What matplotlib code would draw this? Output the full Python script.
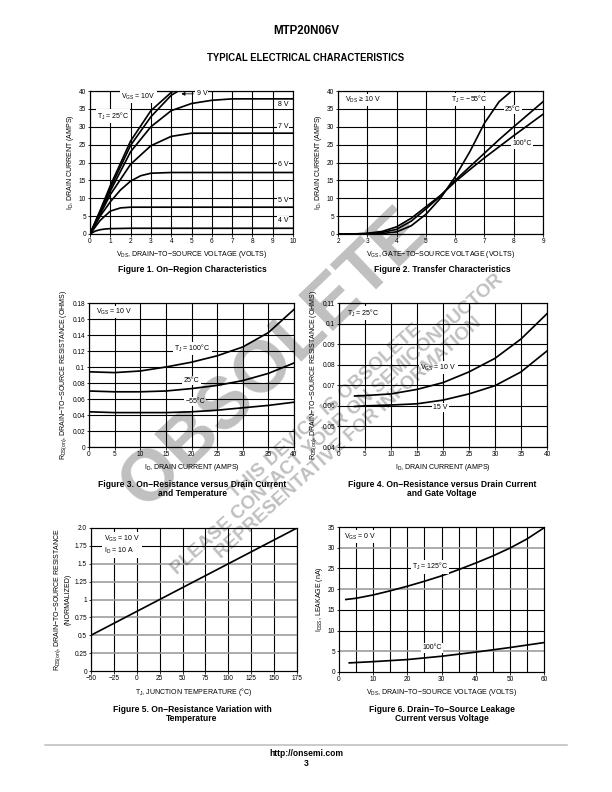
import matplotlib
matplotlib.use('Agg')
import matplotlib.pyplot as plt
import numpy as np

plt.rcParams['font.family'] = ['Liberation Sans Narrow', 'Liberation Sans', 'DejaVu Sans']
plt.rcParams['mathtext.fontset'] = 'custom'
plt.rcParams['mathtext.rm'] = 'Liberation Sans Narrow'
plt.rcParams['mathtext.default'] = 'regular'

# ---- Figure 1: On-region characteristics (ID vs VDS) ----
f1_vgs = ['4 V', '5 V', '6 V', '7 V', '8 V', '9 V', '10 V']
f1_x = {
    '4 V':  [0, 0.25, 0.5, 0.75, 1.0, 1.5, 2, 10],
    '5 V':  [0, 0.5, 1.0, 1.5, 2.0, 10],
    '6 V':  [0, 0.5, 1.0, 1.5, 2.0, 2.5, 3.0, 4.0, 10],
    '7 V':  [0, 0.5, 1.0, 2.0, 3.0, 4.0, 5.0, 10],
    '8 V':  [0, 0.5, 1.0, 2.0, 3.0, 4.0, 5.0, 6.0, 7.0, 10],
    '9 V':  [0, 0.5, 1.0, 2.0, 3.0, 4.0, 4.5],
    '10 V': [0, 0.5, 1.0, 2.0, 3.0, 4.0, 4.3],
}
f1_y = {
    '4 V':  [0, 0.8, 1.2, 1.4, 1.5, 1.55, 1.6, 1.6],
    '5 V':  [0, 3.8, 6.4, 7.3, 7.5, 7.5],
    '6 V':  [0, 5.0, 9.0, 12.3, 14.8, 16.3, 17.0, 17.2, 17.2],
    '7 V':  [0, 5.5, 11.0, 19.5, 24.7, 27.3, 28.2, 28.2],
    '8 V':  [0, 6.0, 12.0, 23.0, 30.0, 34.5, 36.5, 37.4, 37.8, 37.8],
    '9 V':  [0, 6.3, 12.8, 24.8, 32.8, 38.8, 40.5],
    '10 V': [0, 6.6, 13.5, 26.0, 34.5, 39.6, 40.5],
}

# ---- Figure 2: Transfer characteristics (ID vs VGS) ----
f2_vgs = [2, 2.5, 3, 3.5, 4, 4.5, 5, 5.5, 6, 6.5, 7, 7.5, 8, 8.5, 9]
f2_m55 = [0, 0, 0, 0.1, 0.6, 2.3, 5.5, 10.0, 16.0, 23.0, 31.0, 37.0, 40.5, np.nan, np.nan]
f2_25 = [0, 0, 0.1, 0.4, 1.3, 3.6, 7.0, 10.6, 15.0, 18.8, 22.6, 26.4, 30.0, 33.5, 37.0]
f2_100 = [0, 0, 0.2, 0.7, 2.0, 4.4, 7.6, 10.8, 14.6, 18.0, 21.3, 24.4, 27.5, 30.5, 33.5]

# ---- Figure 3: RDS(on) vs ID and temperature ----
f3_id = [0, 5, 10, 15, 20, 25, 30, 35, 40]
f3_100 = [0.094, 0.093, 0.095, 0.100, 0.106, 0.114, 0.125, 0.143, 0.172]
f3_25 = [0.070, 0.069, 0.069, 0.070, 0.073, 0.077, 0.083, 0.092, 0.105]
f3_m55 = [0.044, 0.043, 0.043, 0.043, 0.044, 0.046, 0.049, 0.052, 0.056]

# ---- Figure 4: RDS(on) vs ID and gate voltage ----
f4_id = [3, 5, 10, 15, 20, 25, 30, 35, 40]
f4_10v = [0.0648, 0.065, 0.0658, 0.068, 0.0713, 0.0765, 0.0831, 0.0925, 0.1048]
f4_15v = [0.0597, 0.060, 0.0604, 0.061, 0.0628, 0.0658, 0.0698, 0.0765, 0.0867]

# ---- Figure 5: normalized RDS(on) vs temperature ----
f5_tj = [-50, 175]
f5_r = [0.5, 2.0]

# ---- Figure 6: IDSS leakage vs VDS ----
f6_125_v = [2, 5, 10, 15, 20, 25, 30, 35, 40, 45, 50, 55, 60]
f6_125 = [17.5, 17.8, 18.6, 19.6, 20.7, 21.9, 23.2, 24.7, 26.3, 28.0, 29.9, 32.1, 34.8]
f6_100_v = [3, 10, 20, 30, 40, 50, 60]
f6_100 = [2.2, 2.5, 3.0, 3.8, 4.8, 5.9, 7.1]

W, H = 612, 792
fig = plt.figure(figsize=(W / 72, H / 72), dpi=72)

FS = 7      # axis / annotation text
TFS = 6.5   # tick labels


def panel(l, r, t, b):
    return fig.add_axes([l / W, 1 - b / H, (r - l) / W, (b - t) / H])


def style(ax, xlim, ylim, xt, yt, xtl=None, ytl=None, vlines=None, hlines=None):
    ax.set_xlim(*xlim)
    ax.set_ylim(*ylim)
    ax.set_xticks(xt)
    ax.set_yticks(yt)
    if xtl is not None:
        ax.set_xticklabels(xtl)
    if ytl is not None:
        ax.set_yticklabels(ytl)
    ax.tick_params(labelsize=TFS, length=2.5, width=0.8, pad=1.5, direction='out')
    for s in ax.spines.values():
        s.set_linewidth(1.2)
    if vlines is None:
        vlines = xt
    for v in vlines:
        ax.axvline(v, color='black', lw=1.1, zorder=1)
    if hlines is None:
        hlines = [(y, 'black') for y in yt]
    for y, c in hlines:
        ax.axhline(y, color=c, lw=1.1 if c == 'black' else 1.6, zorder=1)


def lab(ax, x, y, s, ha='left'):
    ax.text(x, y, s, fontsize=FS, ha=ha, va='center', zorder=3,
            bbox=dict(fc='white', ec='none', pad=1.2))


LW = 1.7

# Figure 1
ax1 = panel(90, 293, 91, 234)
style(ax1, (0, 10), (0, 40), range(0, 11), range(0, 41, 5))
for v in f1_vgs:
    ax1.plot(f1_x[v], f1_y[v], color='black', lw=LW, zorder=2)
lab(ax1, 1.55, 38.4, 'V$_{GS}$ = 10V')
lab(ax1, 0.33, 33.0, 'T$_{J}$ = 25°C')
ax1.annotate('9 V', xy=(4.4, 39.2), xytext=(5.25, 39.2), fontsize=FS, va='center',
             arrowprops=dict(arrowstyle='-|>', color='black', lw=0.8, mutation_scale=7),
             bbox=dict(fc='white', ec='none', pad=1.2), zorder=3)
for v, y in zip(['8 V', '7 V', '6 V', '5 V', '4 V'], [36.3, 30.0, 19.5, 9.3, 3.8]):
    lab(ax1, 9.25, y, v)
ax1.set_xlabel('V$_{DS}$, DRAIN−TO−SOURCE VOLTAGE (VOLTS)', fontsize=FS, labelpad=4)
ax1.set_ylabel('I$_{D}$, DRAIN CURRENT (AMPS)', fontsize=FS, labelpad=3)

# Figure 2
ax2 = panel(338, 543, 91, 234)
style(ax2, (2, 9), (0, 40), range(2, 10), range(0, 41, 5))
for ys in [f2_m55, f2_25, f2_100]:
    ax2.plot(f2_vgs, ys, color='black', lw=LW, zorder=2)
lab(ax2, 2.25, 37.5, 'V$_{DS}$ ≥ 10 V')
lab(ax2, 5.85, 37.6, 'T$_{J}$ = −55°C')
lab(ax2, 7.7, 34.9, '25°C')
lab(ax2, 7.95, 25.2, '100°C')
ax2.set_xlabel('V$_{GS}$, GATE−TO−SOURCE VOLTAGE (VOLTS)', fontsize=FS, labelpad=4)
ax2.set_ylabel('I$_{D}$, DRAIN CURRENT (AMPS)', fontsize=FS, labelpad=3)

# Figure 3
ax3 = panel(89, 294, 303, 447)
yt3 = [0, 0.02, 0.04, 0.06, 0.08, 0.1, 0.12, 0.14, 0.16, 0.18]
style(ax3, (0, 40), (0, 0.18), range(0, 41, 5), yt3,
      ytl=['0', '0.02', '0.04', '0.06', '0.08', '0.1', '0.12', '0.14', '0.16', '0.18'])
for ys in [f3_100, f3_25, f3_m55]:
    ax3.plot(f3_id, ys, color='black', lw=LW, zorder=2)
lab(ax3, 1.3, 0.169, 'V$_{GS}$ = 10 V')
lab(ax3, 20.2, 0.123, 'T$_{J}$ = 100°C', ha='center')
lab(ax3, 20.0, 0.0833, '25°C', ha='center')
lab(ax3, 20.7, 0.0565, '−55°C', ha='center')
ax3.set_xlabel('I$_{D}$, DRAIN CURRENT (AMPS)', fontsize=FS, labelpad=4)
ax3.set_ylabel('R$_{DS(on)}$, DRAIN−TO−SOURCE RESISTANCE (OHMS)', fontsize=FS, labelpad=3)

# Figure 4
ax4 = panel(339, 547, 303, 447)
yt4 = [0.04, 0.05, 0.06, 0.07, 0.08, 0.09, 0.1, 0.11]
style(ax4, (0, 40), (0.04, 0.11), range(0, 41, 5), yt4,
      ytl=['0.04', '0.05', '0.06', '0.07', '0.08', '0.09', '0.1', '0.11'])
for ys in [f4_10v, f4_15v]:
    ax4.plot(f4_id, ys, color='black', lw=LW, zorder=2)
lab(ax4, 1.6, 0.105, 'T$_{J}$ = 25°C')
lab(ax4, 19.1, 0.0786, 'V$_{GS}$ = 10 V', ha='center')
lab(ax4, 19.5, 0.0592, '15 V', ha='center')
ax4.set_xlabel('I$_{D}$, DRAIN CURRENT (AMPS)', fontsize=FS, labelpad=4)
ax4.set_ylabel('R$_{DS(on)}$, DRAIN−TO−SOURCE RESISTANCE (OHMS)', fontsize=FS, labelpad=3)

# Figure 5
ax5 = panel(91, 297, 528, 671)
yt5 = [0, 0.25, 0.5, 0.75, 1, 1.25, 1.5, 1.75, 2.0]
h5 = [(0.25, '#999999'), (0.5, '#999999'), (0.75, '#999999'), (1, '#999999'),
      (1.25, '#999999'), (1.5, '#999999'), (1.75, 'black')]
style(ax5, (-50, 175), (0, 2), range(-50, 176, 25), yt5,
      ytl=['0', '0.25', '0.5', '0.75', '1', '1.25', '1.5', '1.75', '2.0'], hlines=h5)
ax5.plot(f5_tj, f5_r, color='black', lw=LW, zorder=2)
ax5.text(-36, 1.765, 'V$_{GS}$ = 10 V\nI$_{D}$ = 10 A', fontsize=FS, va='center', zorder=3,
         linespacing=1.3, bbox=dict(fc='white', ec='none', pad=1.5))
ax5.set_xlabel('T$_{J}$, JUNCTION TEMPERATURE (°C)', fontsize=FS, labelpad=4)
ax5.set_ylabel('R$_{DS(on)}$, DRAIN−TO−SOURCE RESISTANCE\n(NORMALIZED)', fontsize=FS, labelpad=3)

# Figure 6
ax6 = panel(339, 544, 527, 672)
h6 = [(5, '#999999'), (10, 'black'), (15, 'black'), (20, '#999999'),
      (25, 'black'), (30, '#999999')]
style(ax6, (0, 60), (0, 35), range(0, 61, 10), range(0, 36, 5),
      vlines=range(5, 60, 5), hlines=h6)
ax6.plot(f6_125_v, f6_125, color='black', lw=LW, zorder=2)
ax6.plot(f6_100_v, f6_100, color='black', lw=LW, zorder=2)
lab(ax6, 1.6, 32.7, 'V$_{GS}$ = 0 V')
lab(ax6, 26.6, 25.4, 'T$_{J}$ = 125°C', ha='center')
lab(ax6, 27.3, 5.8, '100°C', ha='center')
ax6.set_xlabel('V$_{DS}$, DRAIN−TO−SOURCE VOLTAGE (VOLTS)', fontsize=FS, labelpad=4)
ax6.set_ylabel('I$_{DSS}$, LEAKAGE (nA)', fontsize=FS, labelpad=3)

# page text
bold = dict(family=['Liberation Sans', 'DejaVu Sans'], weight='bold', ha='center', va='center')
fig.text(306 / W, 1 - 31 / H, 'MTP20N06V', fontsize=11.5, **bold)
fig.text(306 / W, 1 - 58 / H, 'TYPICAL ELECTRICAL CHARACTERISTICS', fontsize=9.5, **bold)
caps = [(192, 269, 'Figure 1. On−Region Characteristics'),
        (442, 269, 'Figure 2. Transfer Characteristics'),
        (192, 489, 'Figure 3. On−Resistance versus Drain Current\nand Temperature'),
        (442, 489, 'Figure 4. On−Resistance versus Drain Current\nand Gate Voltage'),
        (192, 714, 'Figure 5. On−Resistance Variation with\nTemperature'),
        (442, 714, 'Figure 6. Drain−To−Source Leakage\nCurrent versus Voltage')]
for x, y, s in caps:
    fig.text(x / W, 1 - y / H, s, fontsize=8.5, linespacing=1.1, **bold)
fig.add_artist(plt.Line2D([45 / W, 567 / W], [1 - 745 / H, 1 - 745 / H], color='#bbbbbb', lw=1.5))
fig.text(306 / W, 1 - 753 / H, 'http://onsemi.com', fontsize=8.5, **bold)
fig.text(306 / W, 1 - 763 / H, '3', fontsize=8.5, **bold)

# watermark
fig.text(274 / W, 1 - 358 / H, 'OBSOLETE', fontsize=72, rotation=44, color='black', alpha=0.25,
         family=['Liberation Sans', 'DejaVu Sans'], weight='bold', ha='center', va='center',
         rotation_mode='anchor', zorder=10)
fig.text(337 / W, 1 - 425 / H,
         'THIS DEVICE IS OBSOLETE\nPLEASE CONTACT YOUR ON SEMICONDUCTOR\nREPRESENTATIVE FOR INFORMATION',
         fontsize=19, rotation=42, color='black', alpha=0.25, linespacing=1.05,
         family=['Liberation Sans', 'DejaVu Sans'], weight='bold', ha='center', va='center',
         multialignment='center', rotation_mode='anchor', zorder=10)

fig.savefig('out.png', dpi=72)
